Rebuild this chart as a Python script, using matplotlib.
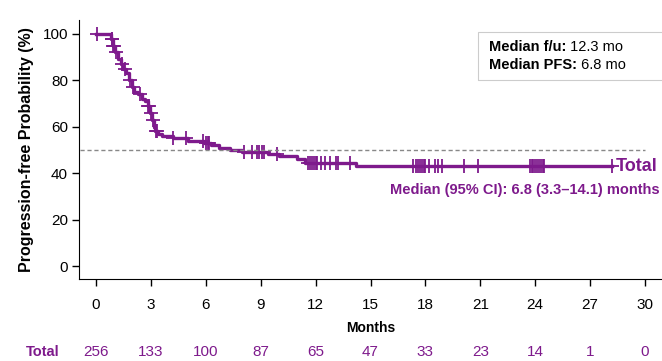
import numpy as np
import matplotlib.pyplot as plt
from matplotlib.patches import Rectangle
from matplotlib.transforms import blended_transform_factory

# step curve of the Kaplan-Meier estimate (months, % progression-free)
step_t = [0, 0.8, 0.95, 1.05, 1.2, 1.35, 1.5, 1.65, 1.8, 1.95, 2.1, 2.3, 2.5, 2.7,
          2.85, 2.95, 3.05, 3.15, 3.25, 3.4, 3.6, 4.2, 5.0, 5.9, 6.3, 6.7, 7.3, 8.0,
          9.4, 10.0, 11.0, 11.4, 14.2, 28.2]
step_s = [100, 98, 95, 92, 89, 87, 85, 83, 80, 77, 75, 74, 72, 71,
          69, 66, 63, 60, 58, 57, 56, 55, 54, 53, 52, 51, 50, 49.3,
          48.3, 47.3, 46.0, 44.4, 43.0, 43.0]

# censored observations (months)
censor_t = [0.05, 0.85, 0.9, 0.95, 1.0, 1.1, 1.4, 1.6, 1.85, 2.0, 2.4, 2.85, 2.9,
            3.0, 3.1, 3.3, 3.35, 4.2, 4.9, 5.85, 6.0, 6.1, 6.2, 8.1, 8.5, 8.8, 8.9,
            9.05, 9.2, 9.9, 11.6, 11.7, 11.8, 11.9, 12.0, 12.1, 12.3, 12.5, 12.8,
            13.1, 13.2, 13.9, 17.3, 17.5, 17.6, 17.7, 17.8, 17.9, 18.0, 18.2, 18.5,
            18.7, 18.9, 20.1, 20.9, 23.7, 23.8, 23.9, 24.0, 24.1, 24.2, 24.3, 24.4,
            24.5, 28.2]

risk_months = [0, 3, 6, 9, 12, 15, 18, 21, 24, 27, 30]
risk_total = [256, 133, 100, 87, 65, 47, 33, 23, 14, 1, 0]

purple = '#7e1a8c'
plt.rcParams['font.family'] = ['Liberation Sans', 'DejaVu Sans']

fig = plt.figure(figsize=(6.62, 3.61), dpi=100)
ax = fig.add_axes([79 / 662, 82 / 361, 1 - 79 / 662, 259 / 361])

ax.plot(step_t, step_s, drawstyle='steps-post', color=purple, lw=2.4)
idx = np.searchsorted(step_t, censor_t, side='right') - 1
ax.plot(censor_t, np.array(step_s)[idx], '+', color=purple, ms=10, mew=1.3)

ax.plot([-0.9, 30], [50, 50], ls=(0, (3, 2)), color='#888888', lw=1)

ax.set_xlim(-0.93, 30.93)
ax.set_ylim(-5.6, 106)
ax.set_xticks(risk_months)
ax.set_yticks(range(0, 101, 20))
ax.spines['top'].set_visible(False)
ax.spines['right'].set_visible(False)
ax.tick_params(length=5, width=1, labelsize=11, pad=3)
ax.tick_params(axis='x', pad=9)
ax.set_ylabel('Progression-free Probability (%)', fontsize=11.5, fontweight='bold', labelpad=6)
ax.set_xlabel('Months', fontsize=10, fontweight='bold', labelpad=6)

ax.text(28.4, 43.0, 'Total', color=purple, fontsize=13, fontweight='bold', va='center')
fig.text(660 / 662, 1 - 190 / 361, 'Median (95% CI): 6.8 (3.3\u201314.1) months', color=purple,
         fontsize=10.5, fontweight='bold', ha='right', va='center')

# info box
fig.patches.append(Rectangle((478 / 662, 1 - 80 / 361), 200 / 662, 48 / 361,
                             transform=fig.transFigure, fill=False, ec='#cccccc', lw=0.8))
r = fig.canvas.get_renderer()
for y, bold, val in [(47, 'Median f/u:', ' 12.3 mo'), (65, 'Median PFS:', ' 6.8 mo')]:
    t = fig.text(489 / 662, 1 - y / 361, bold, fontsize=10.5, fontweight='bold', va='center')
    w = t.get_window_extent(r).width
    fig.text((489 + w) / 662, 1 - y / 361, val, fontsize=10.5, va='center')

# number at risk
tr = blended_transform_factory(ax.transData, fig.transFigure)
fig.text(43 / 662, 1 - 352 / 361, 'Total', color=purple, fontsize=10.5, fontweight='bold',
         ha='center', va='center')
for m, n in zip(risk_months, risk_total):
    ax.text(m, 1 - 352 / 361, str(n), transform=tr, color=purple, fontsize=11,
            ha='center', va='center')

fig.savefig('out.png', dpi=100)
